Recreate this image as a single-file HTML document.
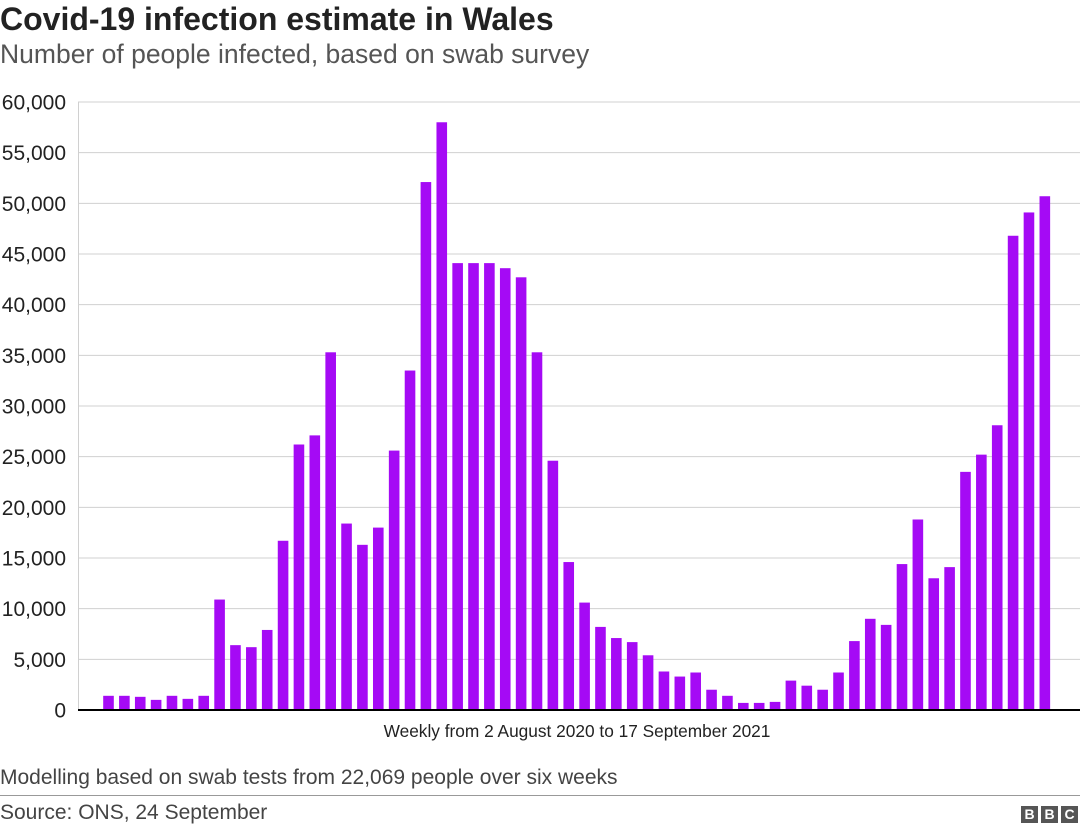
<!DOCTYPE html>
<html><head><meta charset="utf-8"><style>
body{margin:0;width:1080px;height:831px;background:#fff;font-family:"Liberation Sans",Arial,sans-serif;overflow:hidden;position:relative}
.t{position:absolute;white-space:nowrap}
</style></head><body>
<div class="t" style="left:0;top:1px;font-size:32px;font-weight:bold;color:#222">Covid-19 infection estimate in Wales</div>
<div class="t" style="left:0;top:39px;font-size:26.5px;color:#555">Number of people infected, based on swab survey</div>
<svg id="chart" width="1080" height="760" style="position:absolute;left:0;top:0"></svg>
<div class="t" style="left:0;top:766px;font-size:21px;color:#444">Modelling based on swab tests from 22,069 people over six weeks</div>
<div style="position:absolute;left:0;top:795px;width:1080px;height:1px;background:#999"></div>
<div class="t" style="left:0;top:801px;font-size:21px;color:#444">Source: ONS, 24 September</div>
<div style="position:absolute;left:1021px;top:806px;display:flex;gap:3px">
<span style="width:17px;height:17px;background:#555;color:#fff;font:bold 14px 'Liberation Sans';text-align:center;line-height:17px">B</span>
<span style="width:17px;height:17px;background:#555;color:#fff;font:bold 14px 'Liberation Sans';text-align:center;line-height:17px">B</span>
<span style="width:17px;height:17px;background:#555;color:#fff;font:bold 14px 'Liberation Sans';text-align:center;line-height:17px">C</span>
</div>
<script>
const values=[1400,1400,1300,1000,1400,1100,1400,10900,6400,6200,7900,16700,26200,27100,35300,18400,16300,18000,25600,33500,52100,58000,44100,44100,44100,43600,42700,35300,24600,14600,10600,8200,7100,6700,5400,3800,3300,3700,2000,1400,700,700,800,2900,2400,2000,3700,6800,9000,8400,14400,18800,13000,14100,23500,25200,28100,46800,49100,50700];
const yTicks=[0,5000,10000,15000,20000,25000,30000,35000,40000,45000,50000,55000,60000];
const xLabel="Weekly from 2 August 2020 to 17 September 2021";
const NS="http://www.w3.org/2000/svg";
const svg=document.getElementById('chart');
const y0=710,y1=102,yMax=60000,x0=78,x1=1080;
const y=v=>y0-(v/yMax)*(y0-y1);
const step=15.87,first=108.5,bw=10.6;
const x=i=>first+i*step;
function mk(t,a){const e=document.createElementNS(NS,t);for(const k in a)e.setAttribute(k,a[k]);svg.appendChild(e);return e;}
yTicks.forEach(v=>{
  if(v>0){const g=mk('line',{x1:x0,x2:x1,y1:y(v),y2:y(v),stroke:'#d0d0d0','stroke-width':1});
  
  }
  const t=mk('text',{x:66,y:y(v)+7.5,'text-anchor':'end','font-size':21,fill:'#222','font-family':'Liberation Sans, sans-serif'});
  t.textContent=v.toLocaleString('en-US');
  
  
});
const ax=mk('line',{x1:x0+0.5,x2:x0+0.5,y1:y1,y2:y0,stroke:'#d0d0d0','stroke-width':1});


values.forEach((v,i)=>{
  const r=mk('rect',{x:x(i)-bw/2,y:y(v),width:bw,height:y0-y(v),fill:'#a50af5'});
  
  
});
const base=mk('line',{x1:x0,x2:x1,y1:y0,y2:y0,stroke:'#000','stroke-width':2});


const xl=mk('text',{x:577,y:737,'text-anchor':'middle','font-size':17.3,fill:'#222','font-family':'Liberation Sans, sans-serif'});
xl.textContent=xLabel;


</script>
</body></html>
